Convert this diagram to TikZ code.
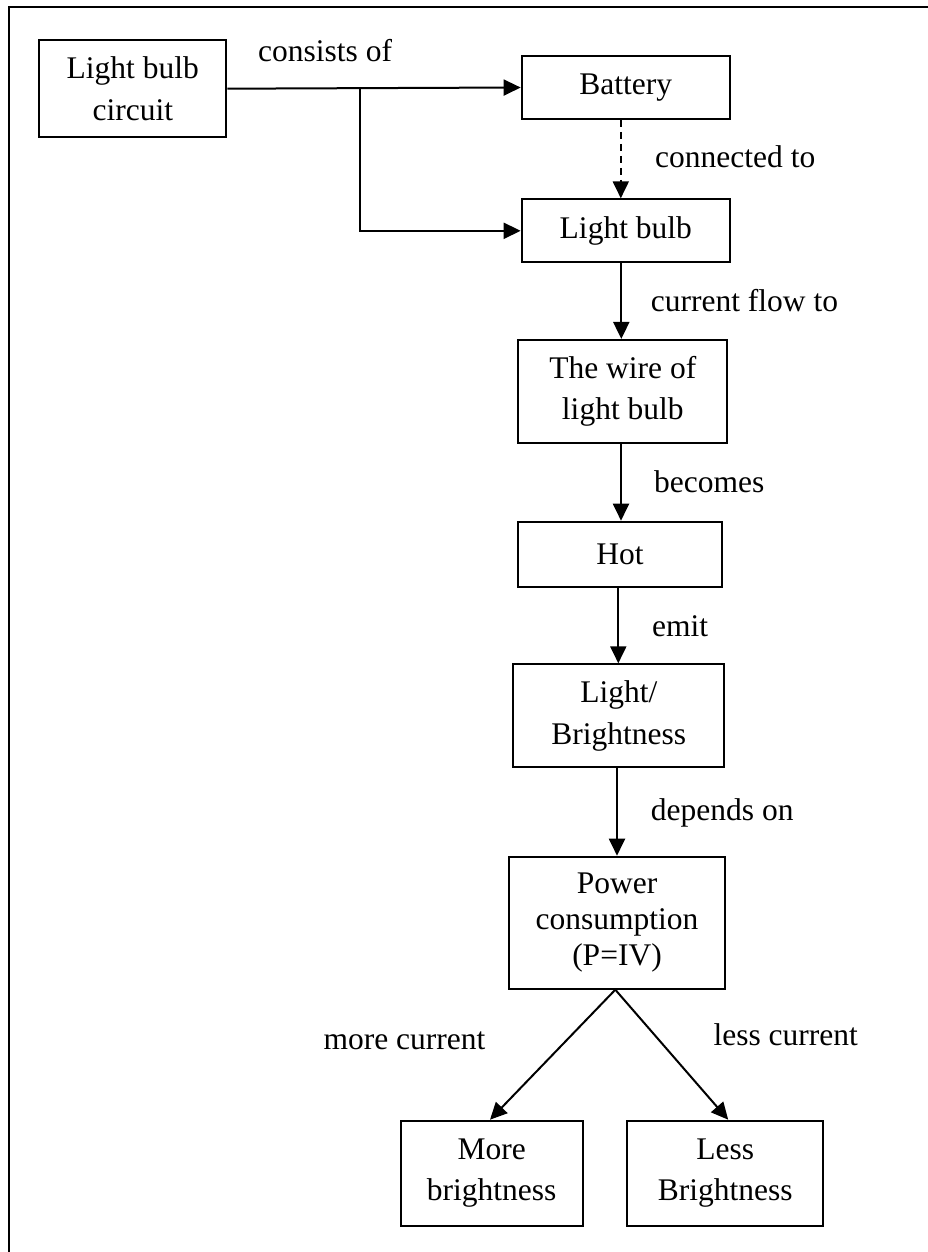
\documentclass[tikz,border=0pt]{standalone}
\usepackage{fontspec}
\setmainfont{Liberation Serif}
\usetikzlibrary{arrows.meta}
\begin{document}
\begin{tikzpicture}[x=1pt,y=-1pt,
  every node/.style={font=\fontsize{31.5}{41.5}\selectfont},
  box/.style={draw,line width=2pt,inner sep=0pt,align=center},
  lbl/.style={anchor=base west,inner sep=0pt},
  arr/.style={line width=2pt,-{Triangle[length=17pt,width=16pt]}},
  dasharr/.style={arr,dash pattern=on 7pt off 5pt}]
\useasboundingbox (0,0) rectangle (928,1252);
\clip (0,0) rectangle (928,1252);
% outer frame (runs past the page edge on the right and bottom)
\draw[line width=2.2pt] (9,7.3) rectangle (960,1290);

% boxes
\node[box,minimum width=187pt,minimum height=97.3pt] (circ) at (132.8,88.7) {Light bulb\\circuit};
\node[box,minimum width=208.3pt,minimum height=63pt] (battery) at (625.8,87.5) {Battery};
\node[box,minimum width=208.3pt,minimum height=63pt] (bulb) at (625.8,230.8) {Light bulb};
\node[box,minimum width=209pt,minimum height=102.7pt] (wire) at (622.8,391.3) {The wire of\\light bulb};
\node[box,minimum width=203.4pt,minimum height=65.6pt] (hot) at (620,554.5) {Hot};
\node[box,minimum width=211pt,minimum height=103pt] (light) at (618.8,715.8) {Light/\\Brightness};
\node[box,minimum width=215.4pt,minimum height=132pt,font=\fontsize{31.5}{36}\selectfont] (power) at (617,922.7) {Power\\consumption\\(P=IV)};
\node[box,minimum width=182pt,minimum height=105pt] (more) at (491.7,1173.2) {More\\brightness};
\node[box,minimum width=196.4pt,minimum height=105pt] (less) at (725.2,1173.2) {Less\\Brightness};

% connectors
\coordinate (split) at (circ.east -| 360,0);
\draw[arr] (circ.east) -- (battery.west);
\draw[arr] (split) |- (bulb.west);
\draw[dasharr] ([xshift=-5pt]battery.south) -- ([xshift=-5pt]bulb.north);
\draw[arr] ([xshift=-4.5pt]bulb.south) -- ([xshift=-1.5pt]wire.north);
\draw[arr] ([xshift=-1.8pt]wire.south) -- ([xshift=1pt]hot.north);
\draw[arr] ([xshift=-1.7pt]hot.south) -- ([xshift=-0.5pt]light.north);
\draw[arr] ([xshift=-1.8pt]light.south) -- (power.north);
\draw[arr] ([xshift=-1.7pt]power.south) -- ([xshift=-1.7pt]more.north);
\draw[arr] ([xshift=-1.7pt]power.south) -- ([xshift=3pt]less.north);

% connector labels
\node[lbl] (lconsists) at (258,61.7) {consists of};
\node[lbl] (lconnected) at (655,168) {connected to};
\node[lbl] (lflow) at (650.7,311.7) {current flow to};
\node[lbl] (lbecomes) at (654,492.7) {becomes};
\node[lbl] (lemit) at (652,636.7) {emit};
\node[lbl] (ldepends) at (650.7,820) {depends on};
\node[lbl] (lmore) at (323.3,1049.3) {more current};
\node[lbl] (lless) at (713.3,1045) {less current};
\end{tikzpicture}
\end{document}
